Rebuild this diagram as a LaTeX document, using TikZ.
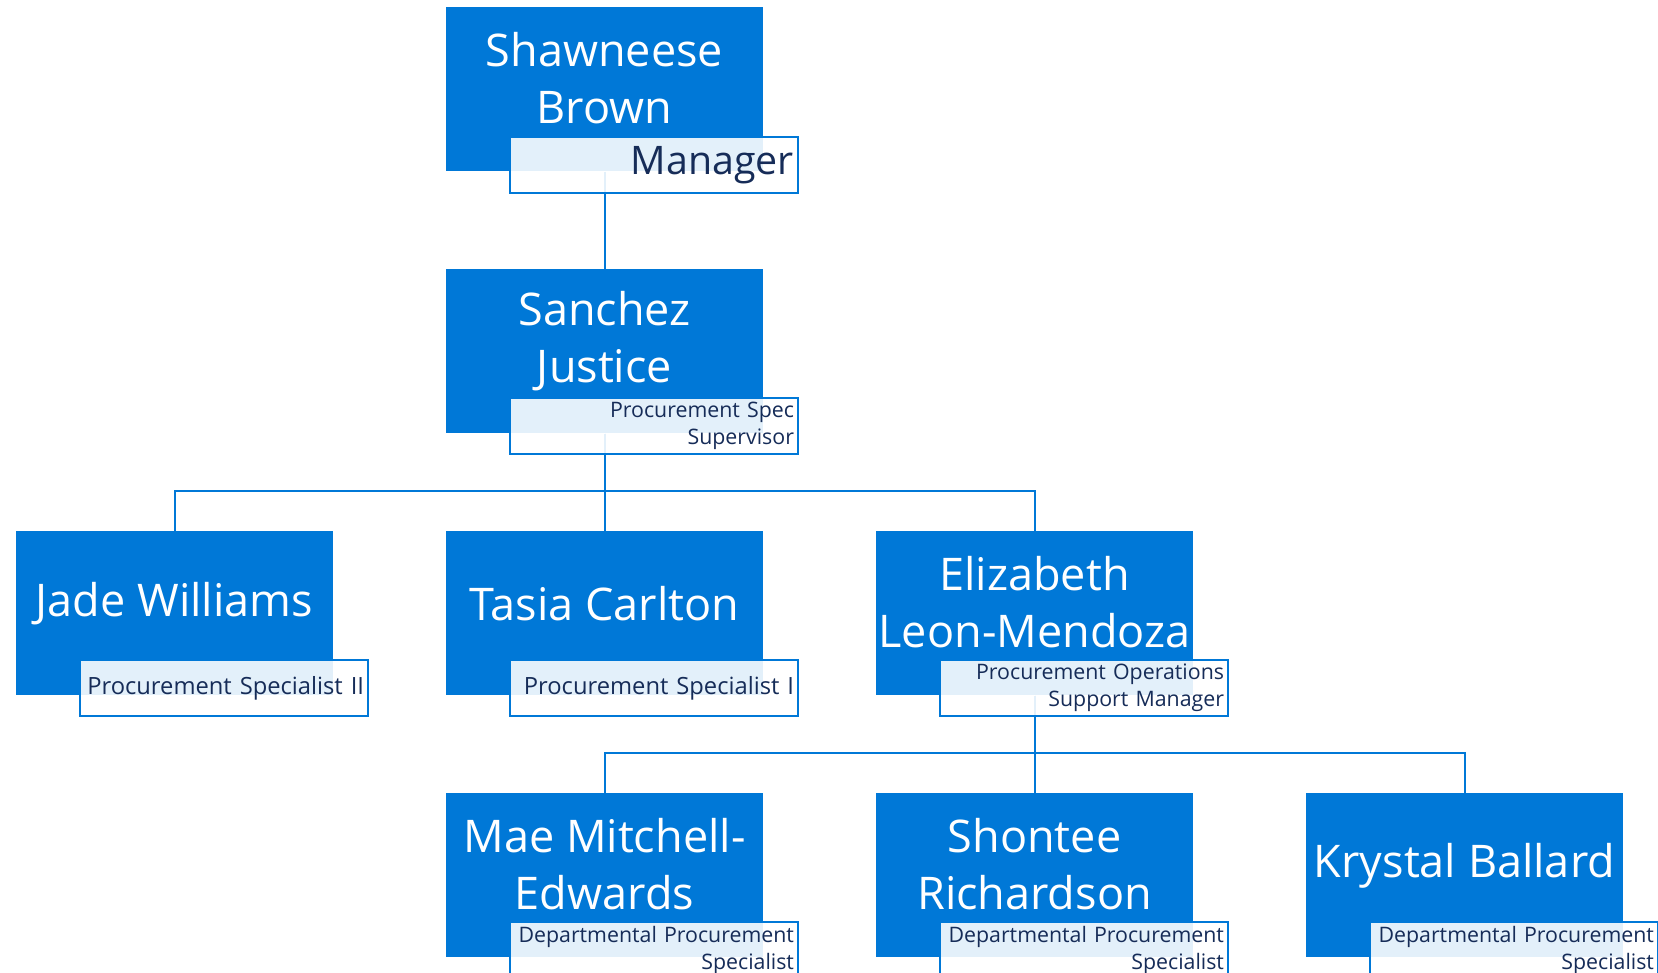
\documentclass[tikz,border=0pt]{standalone}
\usepackage{fontspec}
\setmainfont{Open Sans}
\definecolor{orgblue}{RGB}{0,120,215}
\definecolor{titleink}{RGB}{22,44,88}
\tikzset{
  card/.style={anchor=north west, fill=orgblue, draw=none, inner sep=0pt,
    minimum width=237.75pt, minimum height=123pt},
  nametext/.style={text=white, align=center, inner sep=0pt,
    font=\fontsize{33.75}{42.75}\selectfont},
  titlebox/.style={anchor=north west, draw=orgblue, line width=1.5pt,
    fill=white, fill opacity=0.89, text opacity=1, text=titleink,
    minimum width=216pt, minimum height=42pt, text width=210pt,
    inner xsep=3pt, inner ysep=0pt, align=right},
  bigtitle/.style={font=\fontsize{29.5}{34}\selectfont},
  onetitle/.style={font=\fontsize{17.8}{22}\selectfont},
  twotitle/.style={font=\fontsize{16}{20.25}\selectfont},
  link/.style={draw=orgblue, line width=1.5pt}
}
\begin{document}
\begin{tikzpicture}[x=0.75pt,y=-0.75pt]
\useasboundingbox (0,0) rectangle (1658,972);

% blue cards, one per person
\node[card] (shawneese) at (446,7) {};
\node[card] (sanchez)   at (446,269) {};
\node[card] (jade)      at (16,531) {};
\node[card] (tasia)     at (446,531) {};
\node[card] (elizabeth) at (876,531) {};
\node[card] (mae)       at (446,793) {};
\node[card] (shontee)   at (876,793) {};
\node[card] (krystal)   at (1306,793) {};

% names
\node[nametext] (shawneeseN) at (604.5,78)  {Shawneese\\Brown};
\node[nametext] (sanchezN)   at (604.5,341) {Sanchez\\Justice};
\node[nametext] (jadeN)      at (174.5,604) {Jade Williams};
\node[nametext] (tasiaN)     at (604.5,604) {Tasia Carlton};
\node[nametext] (elizabethN) at (1034.5,602) {Elizabeth\\Leon-Mendoza};
\node[nametext] (maeN)       at (604.5,864) {Mae Mitchell-\\Edwards};
\node[nametext] (shonteeN)   at (1034.5,864) {Shontee\\Richardson};
\node[nametext] (krystalN)   at (1464.5,866) {Krystal Ballard};

% reporting lines
\coordinate (busA) at (604.5,491);
\coordinate (busB) at (1034.5,752.5);
\draw[link] (shawneese.south) -- (sanchez.north);
\foreach \c in {jade,tasia,elizabeth}
  \draw[link] (sanchez.south) -- (sanchez.south |- busA) -| (\c.north);
\foreach \c in {mae,shontee,krystal}
  \draw[link] (elizabeth.south) -- (elizabeth.south |- busB) -| (\c.north);

% job titles
\node[titlebox,bigtitle] (shawneeseT) at (509,136) {\raisebox{-5.5pt}{Manager}};
\node[titlebox,twotitle] (sanchezT)   at (509,397) {Procurement Spec\\Supervisor};
\node[titlebox,onetitle] (jadeT)      at (79,659)  {\mbox{Procurement Specialist II}};
\node[titlebox,onetitle] (tasiaT)     at (509,659) {\mbox{Procurement Specialist I}};
\node[titlebox,twotitle] (elizabethT) at (939,659) {Procurement Operations\\Support Manager};
\node[titlebox,twotitle] (maeT)       at (509,921) {Departmental Procurement\\Specialist};
\node[titlebox,twotitle] (shonteeT)   at (939,921) {Departmental Procurement\\Specialist};
\node[titlebox,twotitle] (krystalT)   at (1369,921) {Departmental Procurement\\Specialist};
\end{tikzpicture}
\end{document}
